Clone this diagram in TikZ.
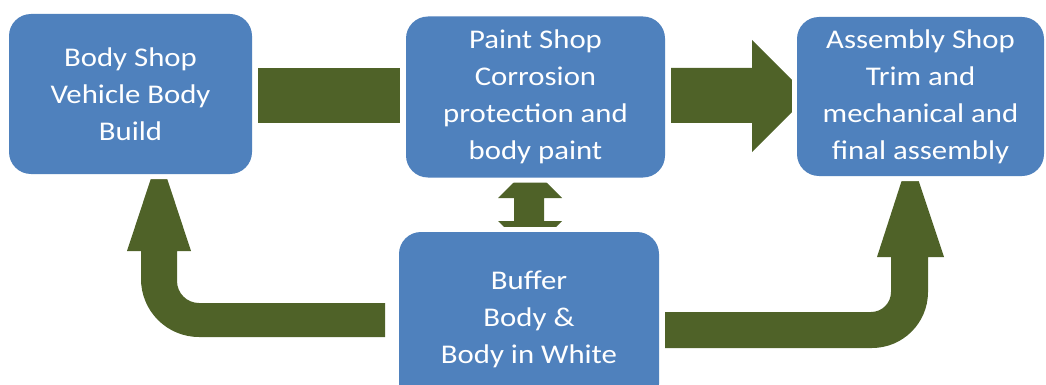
\documentclass[tikz,border=0pt]{standalone}
\usepackage{fontspec}
\setmainfont{Carlito}[FakeStretch=1.14]
\usetikzlibrary{backgrounds}
\definecolor{boxblue}{HTML}{4F81BD}
\definecolor{arrgreen}{HTML}{4F6228}
\tikzset{
  shopbox/.style={rectangle, rounded corners=22pt, fill=boxblue,
    preaction={draw=white, line width=10pt},
    inner sep=0pt, text=white, align=center,
    font=\fontsize{27}{37}\selectfont},
  blockarrow/.style={fill=arrgreen, draw=none}
}
\begin{document}
\begin{tikzpicture}[x={(1pt,0)}, y={(0,-1pt)}]
\useasboundingbox (0,0) rectangle (1046,385);
\node[shopbox, minimum width=243pt, minimum height=160pt] (body) at (130.5,94)
  {Body Shop\\Vehicle Body\\Build};
\node[shopbox, minimum width=259pt, minimum height=161pt] (paint) at (535.5,97)
  {Paint Shop\\Corrosion\\protection and\\body paint};
\node[shopbox, minimum width=247pt, minimum height=159pt] (assembly) at (920.5,96.5)
  {Assembly Shop\\Trim and\\mechanical and\\final assembly};
\node[shopbox, minimum width=260pt, minimum height=174pt] (buffer) at (529,319)
  {Buffer\\Body \&\\Body in White};
\begin{scope}[on background layer]
  % body -> paint
  \fill[blockarrow] (258,68) rectangle (400,123);
  % paint -> assembly
  \fill[blockarrow] (671,68) -- (752,68) -- (752,40) -- (808,96) -- (752,152)
    -- (752,123) -- (671,123) -- cycle;
  % buffer <-> paint
  \fill[blockarrow] (514,198) -- (498,198) -- (530,166) -- (562,198) -- (544,198)
    -- (544,221) -- (562,221) -- (530,253) -- (498,221) -- (514,221) -- cycle;
  % buffer -> body
  \fill[blockarrow] (385,303) [rounded corners=22pt] -- (177,303) [sharp corners]
    -- (177,251) -- (191,251) -- (159,154) -- (127,251) -- (141,251)
    [rounded corners=58pt] -- (141,337) [sharp corners] -- (385,337) -- cycle;
  % buffer -> assembly
  \fill[blockarrow] (665,312) [rounded corners=20pt] -- (891,312) [sharp corners]
    -- (891,257) -- (877,257) -- (910,155) -- (944,257) -- (928,257)
    [rounded corners=56pt] -- (928,348) [sharp corners] -- (665,348) -- cycle;
\end{scope}
\end{tikzpicture}
\end{document}
